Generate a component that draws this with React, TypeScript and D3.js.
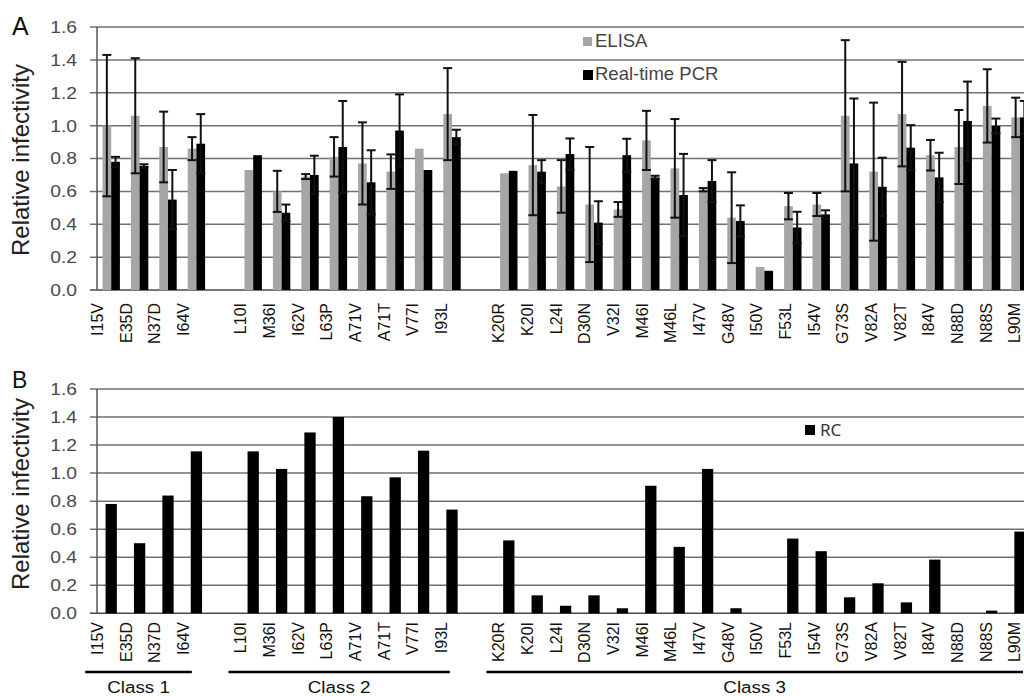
import { useRef, useEffect } from "react";
import * as d3 from "d3";

// mutations grouped by class
const class1 = ["I15V", "E35D", "N37D", "I64V"];
const class2 = ["L10I", "M36I", "I62V", "L63P", "A71V", "A71T", "V77I", "I93L"];
const class3 = [
  "K20R", "K20I", "L24I", "D30N", "V32I", "M46I", "M46L", "I47V", "G48V", "I50V",
  "F53L", "I54V", "G73S", "V82A", "V82T", "I84V", "N88D", "N88S", "L90M",
];
const classNames = ["Class 1", "Class 2", "Class 3"];

// panel A: ELISA / real-time PCR (mean and error)
const elisa = [
  1.0, 1.06, 0.87, 0.86,
  0.73, 0.6, 0.69, 0.81, 0.77, 0.72, 0.86, 1.07,
  0.71, 0.76, 0.63, 0.52, 0.49, 0.91, 0.74, 0.61, 0.44, 0.14,
  0.51, 0.52, 1.06, 0.72, 1.07, 0.82, 0.87, 1.12, 1.05,
];
const elisaErr = [
  0.43, 0.35, 0.215, 0.07,
  0, 0.125, 0.015, 0.12, 0.25, 0.105, 0, 0.28,
  0, 0.305, 0.16, 0.35, 0.045, 0.18, 0.3, 0.01, 0.276, 0,
  0.08, 0.07, 0.46, 0.42, 0.318, 0.093, 0.225, 0.223, 0.12,
];
const pcr = [
  0.78, 0.755, 0.55, 0.89,
  0.82, 0.47, 0.7, 0.87, 0.655, 0.97, 0.73, 0.93,
  0.725, 0.72, 0.827, 0.41, 0.82, 0.685, 0.578, 0.663, 0.42, 0.117,
  0.38, 0.46, 0.77, 0.628, 0.866, 0.685, 1.028, 0.998, 1.05,
];
const pcrErr = [
  0.03, 0.01, 0.18, 0.18,
  0, 0.05, 0.117, 0.28, 0.195, 0.22, 0, 0.045,
  0, 0.07, 0.095, 0.13, 0.1, 0.01, 0.25, 0.127, 0.095, 0,
  0.096, 0.025, 0.395, 0.177, 0.137, 0.15, 0.24, 0.045, 0.1,
];

// panel B: RC
const rc = [
  0.78, 0.5, 0.84, 1.155,
  1.155, 1.03, 1.29, 1.4, 0.835, 0.97, 1.16, 0.74,
  0.52, 0.128, 0.054, 0.128, 0.036, 0.91, 0.474, 1.03, 0.036, 0,
  0.533, 0.443, 0.114, 0.214, 0.078, 0.383, 0, 0.019, 0.583,
];

const yTicks = [0, 0.2, 0.4, 0.6, 0.8, 1.0, 1.2, 1.4, 1.6];

const W = 1024;
const H = 696;
const FONT = "'Liberation Sans', Arial, Helvetica, sans-serif";

export default function App() {
  const svgRef = useRef<SVGSVGElement>(null);

  useEffect(() => {
    if (!svgRef.current) return;
    const svg = d3.select(svgRef.current);
    svg.selectAll("*").remove();

    const classes = [class1, class2, class3];
    const slots = [...class1, "gap1", ...class2, "gap2", ...class3];
    const mutants = [...class1, ...class2, ...class3];

    const x0 = 97;
    const x = d3.scaleBand<string>().domain(slots).range([x0, x0 + slots.length * 28.4]);
    // tick labels sit on a slightly wider pitch than the bars
    const xLab = d3.scaleBand<string>().domain(slots).range([83.2, 83.2 + slots.length * 28.66]);
    const cx = (d: string) => (x(d) ?? 0) + x.bandwidth() / 2;
    const lx = (d: string) => (xLab(d) ?? 0) + xLab.bandwidth() / 2;

    const yA = d3.scaleLinear().domain([0, 1.6]).range([290, 27]);
    const yB = d3.scaleLinear().domain([0, 1.6]).range([613.3, 389]);

    const frame = (
      y: d3.ScaleLinear<number, number>,
      titleY: number,
      letter: string,
      letterSize: number,
      letterY: number,
      labelTop: number
    ) => {
      const g = svg.append("g");
      // gridlines
      g.selectAll(".grid")
        .data(yTicks)
        .join("line")
        .attr("x1", x0 - 7)
        .attr("x2", W)
        .attr("y1", (d) => y(d))
        .attr("y2", (d) => y(d))
        .attr("stroke", (d) => (d === 0 ? "#4a4a4a" : "#707070"))
        .attr("stroke-width", 1.5);
      g.append("line")
        .attr("x1", x0)
        .attr("x2", x0)
        .attr("y1", y(1.6))
        .attr("y2", y(0))
        .attr("stroke", "#555")
        .attr("stroke-width", 1.5);
      // tick labels
      g.selectAll(".tick-label")
        .data(yTicks)
        .join("text")
        .attr("transform", (d) => `translate(77,${y(d)}) scale(1.17,1)`)
        .attr("text-anchor", "end")
        .attr("dy", "0.36em")
        .style("font-family", FONT)
        .style("font-size", "16.5px")
        .style("fill", "#4a4a4a")
        .text((d) => d3.format(".1f")(d));
      // axis title
      g.append("text")
        .attr("transform", `translate(29,${titleY}) rotate(-90)`)
        .attr("text-anchor", "middle")
        .style("font-family", FONT)
        .style("font-size", "24px")
        .style("fill", "#222")
        .text("Relative infectivity");
      g.append("text")
        .attr("x", 12)
        .attr("y", letterY)
        .style("font-family", FONT)
        .style("font-size", `${letterSize}px`)
        .style("fill", "#111")
        .text(letter);
      // category labels
      g.selectAll(".cat")
        .data(mutants)
        .join("text")
        .attr("transform", (d) => `translate(${lx(d)},${labelTop}) rotate(-90)`)
        .attr("text-anchor", "end")
        .attr("dy", "0.35em")
        .style("font-family", FONT)
        .style("font-size", "16px")
        .style("fill", "#111")
        .text((d) => d);
    };

    frame(yA, 160, "A", 25, 35, 303);
    frame(yB, 494, "B", 23, 388, 622);

    // ---- panel A bars
    const half = 8.7;
    const ga = svg.append("g");
    ga.selectAll(".elisa")
      .data(mutants)
      .join("rect")
      .attr("x", (d) => cx(d) - half)
      .attr("width", half)
      .attr("y", (_, i) => yA(elisa[i]))
      .attr("height", (_, i) => yA(0) - yA(elisa[i]))
      .attr("fill", "#a6a6a6");
    ga.selectAll(".pcr")
      .data(mutants)
      .join("rect")
      .attr("x", (d) => cx(d))
      .attr("width", half)
      .attr("y", (_, i) => yA(pcr[i]))
      .attr("height", (_, i) => yA(0) - yA(pcr[i]))
      .attr("fill", "#000");

    const errs = [
      ...mutants.map((d, i) => ({ xc: cx(d) - half / 2, v: elisa[i], e: elisaErr[i] })),
      ...mutants.map((d, i) => ({ xc: cx(d) + half / 2, v: pcr[i], e: pcrErr[i] })),
    ].filter((d) => d.e > 0);
    const eg = ga.selectAll(".err").data(errs).join("g").attr("stroke", "#111").attr("stroke-width", 2);
    eg.append("line")
      .attr("x1", (d) => d.xc)
      .attr("x2", (d) => d.xc)
      .attr("y1", (d) => yA(d.v + d.e))
      .attr("y2", (d) => yA(d.v - d.e));
    eg.append("line")
      .attr("x1", (d) => d.xc - 4.5)
      .attr("x2", (d) => d.xc + 4.5)
      .attr("y1", (d) => yA(d.v + d.e))
      .attr("y2", (d) => yA(d.v + d.e));
    eg.append("line")
      .attr("x1", (d) => d.xc - 4.5)
      .attr("x2", (d) => d.xc + 4.5)
      .attr("y1", (d) => yA(d.v - d.e))
      .attr("y2", (d) => yA(d.v - d.e));

    // legend A
    ga.append("rect").attr("x", 583).attr("y", 37).attr("width", 9).attr("height", 9).attr("fill", "#a6a6a6");
    ga.append("rect").attr("x", 583).attr("y", 70).attr("width", 10).attr("height", 10).attr("fill", "#000");
    ga.append("text")
      .attr("x", 595)
      .attr("y", 47)
      .style("font-family", FONT)
      .style("font-size", "18.5px")
      .style("fill", "#444")
      .text("ELISA");
    ga.append("text")
      .attr("x", 595)
      .attr("y", 80)
      .style("font-family", FONT)
      .style("font-size", "18.5px")
      .style("fill", "#444")
      .text("Real-time PCR");

    // ---- panel B bars
    const gb = svg.append("g");
    const bwB = 11.3;
    gb.selectAll(".rc")
      .data(mutants)
      .join("rect")
      .attr("x", (d) => cx(d) - bwB / 2)
      .attr("width", bwB)
      .attr("y", (_, i) => yB(rc[i]))
      .attr("height", (_, i) => yB(0) - yB(rc[i]))
      .attr("fill", "#000");

    gb.append("rect").attr("x", 805).attr("y", 425).attr("width", 10).attr("height", 10).attr("fill", "#000");
    gb.append("text")
      .attr("x", 820)
      .attr("y", 436)
      .style("font-family", "'Noto Sans', sans-serif")
      .style("font-size", "17px")
      .style("fill", "#333")
      .text("RC");

    // class brackets
    const bwL = xLab.bandwidth();
    classes.forEach((c, i) => {
      const s = (xLab(c[0]) ?? 0) + 2;
      const e = (xLab(c[c.length - 1]) ?? 0) + bwL - 6;
      gb.append("line")
        .attr("x1", s)
        .attr("x2", e)
        .attr("y1", 672)
        .attr("y2", 672)
        .attr("stroke", "#000")
        .attr("stroke-width", 2.6);
      gb.append("text")
        .attr("transform", `translate(${(s + e) / 2},693) scale(1.14,1)`)
        .attr("text-anchor", "middle")
        .style("font-family", FONT)
        .style("font-size", "16.5px")
        .style("fill", "#111")
        .text(classNames[i]);
    });
  }, []);

  return (
    <svg
      ref={svgRef}
      width={W}
      height={H}
      viewBox={`0 0 ${W} ${H}`}
      style={{ position: "absolute", left: 0, top: 0, background: "#fff" }}
    />
  );
}
